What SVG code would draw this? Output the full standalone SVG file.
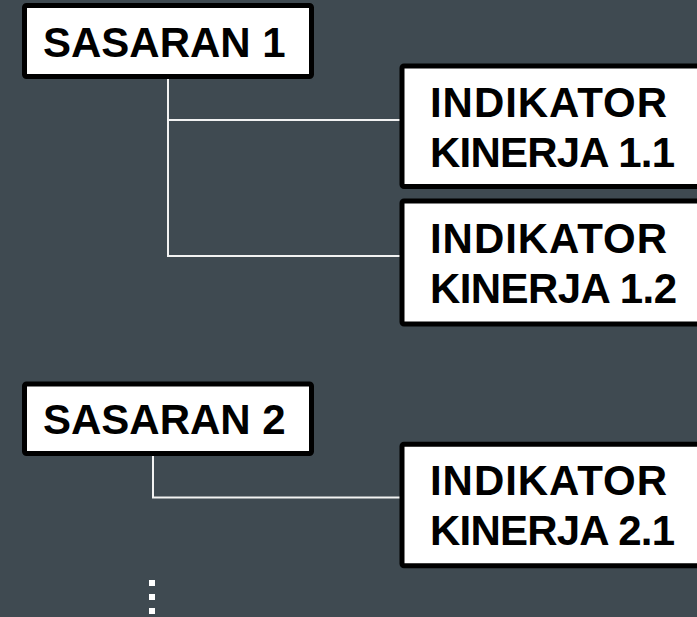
<svg xmlns="http://www.w3.org/2000/svg" width="697" height="617" viewBox="0 0 697 617">
<style>
.box{fill:#ffffff;stroke:#000000;stroke-width:5}
.lbl{font-family:"Liberation Sans",Arial,sans-serif;font-weight:bold;font-size:42px;fill:#000000}
.conn{fill:none;stroke:#f2f2f2;stroke-width:2}
.dot{fill:#ffffff}
</style>
<rect x="0" y="0" width="697" height="617" fill="#3f4a51"/>
<g id="connectors">
<path class="conn" d="M168 79 V256 H400 M168 120 H400"/>
<path class="conn" d="M153 456 V497.5 H400"/>
<rect class="dot" x="149" y="580" width="6" height="6"/>
<rect class="dot" x="149" y="594" width="6" height="6"/>
<rect class="dot" x="149" y="608" width="6" height="6"/>
</g>
<g id="sasaran1">
<rect class="box" x="24.5" y="5.5" width="287" height="71" rx="2"/>
<text class="lbl" x="43" y="57">SASARAN 1</text>
</g>
<g id="indikator11">
<rect class="box" x="402" y="66" width="310" height="120.5" rx="2"/>
<text class="lbl" x="430" y="117" textLength="237" lengthAdjust="spacing">INDIKATOR</text>
<text class="lbl" x="430" y="167" textLength="245" lengthAdjust="spacing">KINERJA 1.1</text>
</g>
<g id="indikator12">
<rect class="box" x="402" y="201" width="310" height="123" rx="2"/>
<text class="lbl" x="430" y="253" textLength="237" lengthAdjust="spacing">INDIKATOR</text>
<text class="lbl" x="430" y="303" textLength="247" lengthAdjust="spacing">KINERJA 1.2</text>
</g>
<g id="sasaran2">
<rect class="box" x="24.5" y="384" width="287" height="69.5" rx="2"/>
<text class="lbl" x="43" y="434">SASARAN 2</text>
</g>
<g id="indikator21">
<rect class="box" x="402" y="444.2" width="310" height="121.6" rx="2"/>
<text class="lbl" x="430" y="495" textLength="237" lengthAdjust="spacing">INDIKATOR</text>
<text class="lbl" x="430" y="545" textLength="245" lengthAdjust="spacing">KINERJA 2.1</text>
</g>
</svg>
